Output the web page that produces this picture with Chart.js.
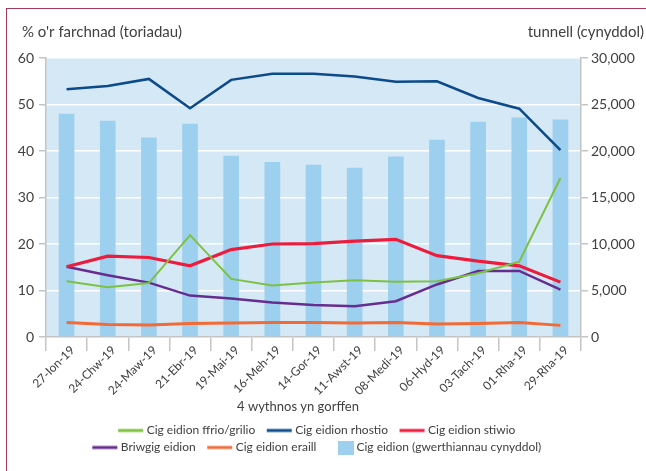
<!DOCTYPE html>
<html>
<head>
<meta charset="utf-8">
<script src="https://cdn.jsdelivr.net/npm/chart.js@4"></script>
<style>
  html, body { margin: 0; padding: 0; background: #fff; }
  #wrap { position: relative; width: 646px; height: 471px; overflow: hidden; }
  #frame { position: absolute; left: 6px; top: 8px; width: 700px; height: 600px; border: 1.5px solid #a3385a; pointer-events: none; }
  canvas { position: absolute; left: 0; top: 0; }
</style>
</head>
<body>
<div id="wrap">
  <canvas id="chart" width="646" height="471"></canvas>
  <div id="frame"></div>
</div>
<script>
// 4-week periods ending
const periods = ['27-Ion-19', '24-Chw-19', '24-Maw-19', '21-Ebr-19', '19-Mai-19', '16-Meh-19', '14-Gor-19',
    '11-Awst-19', '08-Medi-19', '06-Hyd-19', '03-Tach-19', '01-Rha-19', '29-Rha-19'];

// market share of cuts, % (left axis)
const ffrioGrilio = [12.0, 10.7, 11.6, 21.9, 12.5, 11.1, 11.7, 12.2, 11.9, 12.0, 13.7, 16.2, 34.2];
const rhostio = [53.3, 54.0, 55.5, 49.2, 55.3, 56.6, 56.6, 56.0, 54.9, 55.0, 51.4, 49.1, 40.2];
const stiwio = [15.1, 17.4, 17.1, 15.3, 18.8, 20.0, 20.1, 20.6, 21.0, 17.5, 16.3, 15.3, 11.8];
const briwgig = [15.1, 13.3, 11.7, 8.9, 8.3, 7.4, 6.9, 6.6, 7.7, 11.3, 14.2, 14.2, 10.2];
const eraill = [3.1, 2.7, 2.6, 2.9, 3.0, 3.1, 3.1, 3.0, 3.1, 2.8, 2.9, 3.1, 2.5];

// cumulative sales, tonnes (right axis)
const gwerthiannau = [24000, 23240, 21440, 22920, 19500, 18830, 18530, 18210, 19400, 21200, 23140, 23600, 23380];

const FONT = 'Lato';
const TXT = '#404040';
const AXIS = '#c4c4c4';

// little legend swatches, shifted right so the gap to the text is small
function lineSwatch(color, width) {
    const c = document.createElement('canvas');
    c.width = 36; c.height = 6;
    const g = c.getContext('2d');
    g.strokeStyle = color;
    g.lineWidth = width;
    g.beginPath();
    g.moveTo(10, 3);
    g.lineTo(35, 3);
    g.stroke();
    return c;
}
function boxSwatch(color) {
    const c = document.createElement('canvas');
    c.width = 36; c.height = 14;
    const g = c.getContext('2d');
    g.fillStyle = color;
    g.fillRect(20, 0, 16, 14);
    return c;
}

function lineSet(label, data, color, width) {
    return {
        type: 'line',
        label: label,
        data: data,
        yAxisID: 'y',
        borderColor: color,
        backgroundColor: color,
        borderWidth: width,
        pointRadius: 0,
        tension: 0,
        order: 0,
        swatch: lineSwatch(color, 3)
    };
}

const plotBg = {
    id: 'plotBg',
    beforeDraw(chart) {
        const a = chart.chartArea;
        const ctx = chart.ctx;
        ctx.save();
        ctx.fillStyle = '#d5e8f6';
        ctx.fillRect(a.left, a.top, a.right - a.left, a.bottom - a.top);
        ctx.restore();
    }
};

// wrap the legend into 3 + 3 like the original
const legendWrap = {
    id: 'legendWrap',
    afterInit(chart) {
        const lg = chart.legend;
        const fitRows = lg._fitRows;
        lg._fitRows = function () {
            const mw = this.maxWidth;
            this.maxWidth = 480;
            const h = fitRows.apply(this, arguments);
            this.maxWidth = mw;
            return h;
        };
    }
};

const titles = {
    id: 'titles',
    afterDraw(chart) {
        const ctx = chart.ctx;
        ctx.save();
        ctx.fillStyle = TXT;
        ctx.font = '15px ' + FONT;
        ctx.textBaseline = 'middle';
        ctx.textAlign = 'left';
        ctx.fillText("% o'r farchnad (toriadau)", 22, 32);
        ctx.textAlign = 'right';
        ctx.fillText('tunnell (cynyddol)', 644, 32);
        ctx.font = '13px ' + FONT;
        ctx.textAlign = 'center';
        ctx.fillText('4 wythnos yn gorffen', 298, 407);
        ctx.restore();
    }
};

const ctx = document.getElementById('chart').getContext('2d');
const chart = new Chart(ctx, {
    type: 'bar',
    data: {
        labels: periods,
        datasets: [
            lineSet('Cig eidion ffrio/grilio', ffrioGrilio, '#7cc142', 2),
            lineSet('Cig eidion rhostio', rhostio, '#0b4a8b', 2.5),
            lineSet('Cig eidion stiwio', stiwio, '#ed1c3d', 3.2),
            lineSet('Briwgig eidion', briwgig, '#662d91', 2.5),
            lineSet('Cig eidion eraill', eraill, '#f26a36', 3),
            {
                type: 'bar',
                label: 'Cig eidion (gwerthiannau cynyddol)',
                data: gwerthiannau,
                yAxisID: 'y1',
                backgroundColor: '#9dcfee',
                barPercentage: 0.38,
                categoryPercentage: 1,
                order: 1,
                swatch: boxSwatch('#9dcfee')
            }
        ]
    },
    options: {
        responsive: false,
        animation: false,
        layout: { padding: { top: 58, left: 0, right: 0, bottom: 7.5 } },
        plugins: {
            tooltip: { enabled: false },
            legend: {
                position: 'bottom',
                fullSize: false,
                labels: {
                    usePointStyle: true,
                    pointStyleWidth: 29,
                    padding: 5,
                    color: TXT,
                    font: { family: FONT, size: 12 },
                    generateLabels(ch) {
                        return ch.data.datasets.map((ds, i) => ({
                            text: ds.label,
                            pointStyle: ds.swatch,
                            fontColor: TXT,
                            lineWidth: 0,
                            datasetIndex: i
                        }));
                    }
                }
            }
        },
        scales: {
            x: {
                offset: true,
                grid: { display: true, drawOnChartArea: false, offset: true, tickLength: 14, tickColor: AXIS, lineWidth: 1.5 },
                border: { color: AXIS, width: 1.5 },
                ticks: {
                    minRotation: 45, maxRotation: 45, autoSkip: false, padding: -8, labelOffset: 6,
                    color: TXT, font: { family: FONT, size: 12 }
                },
                afterFit(s) { s.height = 82.5; }
            },
            y: {
                position: 'left',
                min: 0, max: 60,
                ticks: { stepSize: 10, padding: 5, color: TXT, font: { family: FONT, size: 14 } },
                grid: { color: '#ffffff', lineWidth: 1.5, tickLength: 7, tickColor: AXIS },
                border: { color: AXIS, width: 1.5 },
                afterFit(s) { s.width = 46; }
            },
            y1: {
                position: 'right',
                min: 0, max: 30000,
                ticks: {
                    stepSize: 5000, padding: 3, color: TXT, font: { family: FONT, size: 14 },
                    callback: v => v.toLocaleString('en-US')
                },
                grid: { drawOnChartArea: false, tickLength: 7, tickColor: AXIS, lineWidth: 1.5 },
                border: { color: AXIS, width: 1.5 },
                afterFit(s) { s.width = 65; }
            }
        }
    },
    plugins: [plotBg, legendWrap, titles]
});
</script>
</body>
</html>
